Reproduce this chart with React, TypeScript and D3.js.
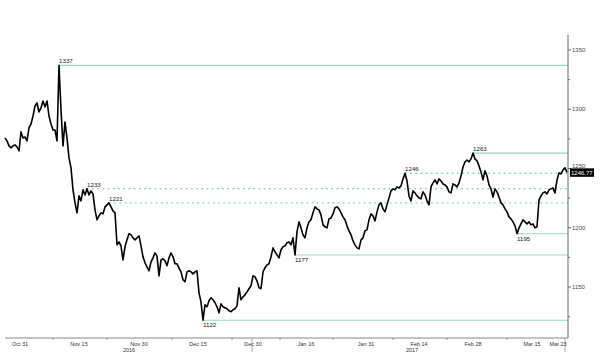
import React from 'react';
import * as d3 from 'd3';

// gold spot, sampled bars Oct 27 2016 -> Mar 23 2017
const prices = [
  1275.8, 1273.3, 1269.1, 1267.4, 1269.1, 1269.9, 1268.2, 1264.8, 1280.9, 1275.8,
  1276.6, 1273.3, 1284.2, 1287.6, 1294.3, 1302.8, 1305.3, 1297.7, 1301.1, 1307.0,
  1301.9, 1307.0, 1294.3, 1287.6, 1282.5, 1282.5, 1273.3, 1337, 1299.4, 1269.1,
  1289.3, 1275.8, 1258.9, 1250.5, 1232.0, 1221.0, 1212.6, 1226.9, 1222.7, 1232.0,
  1227.7, 1233, 1227.7, 1231.1, 1228.6, 1215.1, 1206.7, 1210.0, 1212.6, 1211.7,
  1217.6, 1219.3, 1221, 1217.6, 1214.2, 1212.6, 1185.6, 1188.1, 1184.7, 1172.9,
  1183.9, 1189.8, 1194.9, 1194.0, 1191.5, 1189.8, 1191.5, 1193.2, 1184.7, 1175.5,
  1170.4, 1167.0, 1163.7, 1171.2, 1174.6, 1178.8, 1176.3, 1159.4, 1172.9, 1173.8,
  1172.1, 1167.9, 1174.6, 1178.8, 1175.5, 1169.6, 1169.6, 1166.2, 1162.8, 1156.1,
  1154.4, 1162.8, 1163.7, 1162.8, 1161.1, 1162.8, 1163.7, 1145.1, 1137.5, 1122,
  1135.0, 1133.3, 1138.4, 1140.9, 1139.2, 1136.7, 1133.3, 1128.2, 1135.8, 1133.3,
  1132.5, 1131.6, 1129.9, 1129.1, 1130.8, 1131.6, 1134.1, 1149.3, 1139.2, 1141.7,
  1143.4, 1145.9, 1148.5, 1151.0, 1159.4, 1158.6, 1155.2, 1149.3, 1148.5, 1162.8,
  1166.2, 1168.7, 1169.6, 1175.5, 1183.0, 1179.7, 1177.1, 1174.6, 1181.4, 1183.9,
  1184.7, 1187.3, 1188.1, 1185.6, 1191.5, 1177, 1196.5, 1205.0, 1199.9, 1194.0,
  1191.5, 1199.9, 1205.0, 1206.7, 1212.6, 1217.6, 1215.9, 1215.1, 1210.9, 1202.4,
  1200.8, 1199.9, 1207.5, 1208.3, 1211.7, 1216.8, 1217.6, 1215.9, 1212.6, 1209.2,
  1206.7, 1201.6, 1197.4, 1194.0, 1188.9, 1185.6, 1183.0, 1182.2, 1189.8, 1191.5,
  1197.4, 1198.2, 1206.7, 1211.7, 1210.0, 1205.8, 1213.4, 1219.3, 1221.0, 1215.9,
  1213.4, 1219.3, 1225.2, 1231.1, 1232.8, 1232.0, 1234.5, 1233.6, 1235.3, 1241.2,
  1246, 1239.5, 1226.9, 1222.7, 1231.1, 1229.4, 1226.9, 1225.2, 1224.4, 1230.3,
  1227.7, 1222.7, 1219.3, 1234.5, 1237.9, 1240.4, 1237.0, 1241.2, 1239.5, 1237.0,
  1236.2, 1234.5, 1230.3, 1229.4, 1237.0, 1236.2, 1234.5, 1237.9, 1243.8, 1251.3,
  1255.6, 1257.2, 1255.6, 1258.1, 1263, 1258.1, 1256.4, 1252.2, 1247.1, 1240.4,
  1248.0, 1243.8, 1236.2, 1232.8, 1226.0, 1232.8, 1230.3, 1226.0, 1221.0, 1219.3,
  1215.9, 1213.4, 1209.2, 1207.5, 1205.0, 1201.6, 1195, 1199.9, 1203.3, 1206.7,
  1205.0, 1203.3, 1205.0, 1202.4, 1203.3, 1199.9, 1200.8, 1223.5, 1226.9, 1229.4,
  1230.3, 1228.6, 1232.0, 1232.8, 1233.6, 1229.4, 1240.4, 1246.3, 1245.4, 1248.8,
  1250.5, 1246.77,
];

// horizontal levels: value + bar index where they start
const highLevels = [1337, 1263];
const highStart = [27, 234];
const pivotLevels = [1246, 1233, 1221];
const pivotStart = [200, 41, 52];
const lowLevels = [1195, 1177, 1122];
const lowStart = [256, 145, 99];

const dateLabels = ['Oct 31', 'Nov 15', 'Nov 30', 'Dec 15', 'Dec 30', 'Jan 16', 'Jan 31', 'Feb 14', 'Feb 28', 'Mar 15', 'Mar 23'];
const dateIdx = [7.5, 37, 67, 96.5, 124, 150.5, 180.5, 207, 234, 263.5, 276.5];
const minorIdx = [24, 51, 83.5, 113.5, 137.5, 164, 194, 221, 251];
const yearLabels = ['2016', '2017'];
const yearIdx = [62, 203.5];
const yearBreakIdx = [123.5, 280];

const yTicks = [1150, 1200, 1250, 1300, 1350];
const yMinor = [1125, 1175, 1225, 1275, 1325];

const W = 600;
const H = 363;
const axisX = 568;
const axisY = 338;
const font = "'Liberation Sans', Arial, sans-serif";
const levelColor = '#97d8c2';
const dotColor = '#74cdb0';

export default function App() {
  const x = d3.scaleLinear().domain([0, prices.length - 1]).range([5, 567]);
  const y = d3.scaleLinear().domain([1150, 1350]).range([287, 50]);

  const line = d3.line<number>()
    .x((_, i) => x(i))
    .y(d => y(d));

  const last = prices[prices.length - 1];

  return (
    <svg width={W} height={H} style={{ position: 'absolute', left: 0, top: 0, background: '#fff' }} fontFamily={font}>
      {/* levels */}
      {highLevels.map((v, i) => (
        <g key={'h' + v}>
          <line x1={x(highStart[i])} x2={axisX} y1={y(v)} y2={y(v)} stroke={levelColor} strokeWidth={1.1} />
          <text x={x(highStart[i])} y={y(v) - 2} fontSize={6.2} fill="#222">{v}</text>
        </g>
      ))}
      {pivotLevels.map((v, i) => (
        <g key={'p' + v}>
          <line x1={x(pivotStart[i])} x2={axisX} y1={y(v)} y2={y(v)} stroke={dotColor} strokeWidth={1.4} strokeDasharray="1.6,3.6" />
          <text x={x(pivotStart[i])} y={y(v) - 2} fontSize={6.2} fill="#222">{v}</text>
        </g>
      ))}
      {lowLevels.map((v, i) => (
        <g key={'l' + v}>
          <line x1={x(lowStart[i])} x2={axisX} y1={y(v)} y2={y(v)} stroke={levelColor} strokeWidth={1.1} />
          <text x={x(lowStart[i])} y={y(v) + 7} fontSize={6.2} fill="#222">{v}</text>
        </g>
      ))}

      {/* price */}
      <path d={line(prices) || ''} fill="none" stroke="#000" strokeWidth={1.6} strokeLinejoin="round" />

      {/* right axis */}
      <line x1={axisX} x2={axisX} y1={35} y2={axisY} stroke="#666" strokeWidth={1} />
      {yMinor.map(t => (
        <line key={'ym' + t} x1={axisX} x2={axisX + 2} y1={y(t)} y2={y(t)} stroke="#666" />
      ))}
      {yTicks.map(t => (
        <g key={'y' + t}>
          <line x1={axisX} x2={axisX + 3} y1={y(t)} y2={y(t)} stroke="#666" />
          <text x={axisX + 4} y={t === 1250 ? y(t) - 3 : y(t)} dy="0.35em" fontSize={6} fill="#444">{t}</text>
        </g>
      ))}
      <rect x={axisX + 2} y={y(last) - 4} width={24} height={8.5} fill="#000" />
      <text x={axisX + 3} y={y(last) + 0.3} dy="0.35em" fontSize={6} fill="#fff">{last.toFixed(2)}</text>

      {/* bottom axis */}
      <line x1={5} x2={axisX} y1={axisY} y2={axisY} stroke="#888" strokeWidth={1} />
      {minorIdx.map(t => (
        <line key={'xm' + t} x1={x(t)} x2={x(t)} y1={axisY} y2={axisY + 2} stroke="#888" />
      ))}
      {yearBreakIdx.map(t => (
        <line key={'yb' + t} x1={x(t)} x2={x(t)} y1={axisY} y2={axisY + 14} stroke="#aaa" />
      ))}
      {dateLabels.map((d, i) => (
        <text key={d} x={x(dateIdx[i])} y={axisY + 8} textAnchor="middle" fontSize={5.5} fill="#333">{d}</text>
      ))}
      {yearLabels.map((d, i) => (
        <text key={d} x={x(yearIdx[i])} y={axisY + 14} textAnchor="middle" fontSize={5.5} fill="#333">{d}</text>
      ))}
    </svg>
  );
}
